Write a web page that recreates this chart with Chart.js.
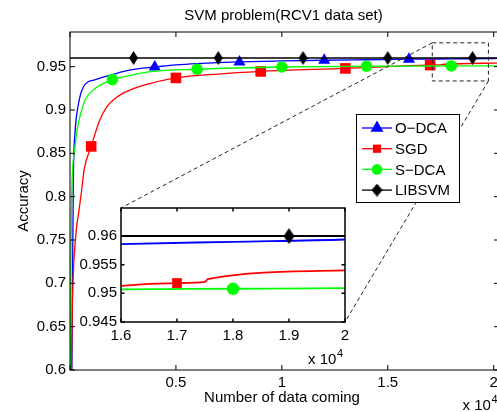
<!DOCTYPE html>
<html>
<head>
<title>SVM problem(RCV1 data set)</title>
<script src="https://cdn.jsdelivr.net/npm/chart.js@4.4.0/dist/chart.umd.min.js"></script>
<style>
  html, body { margin: 0; padding: 0; background: #fff; overflow: hidden; }
  #wrap { position: relative; width: 497px; height: 412px; overflow: hidden; }
  #main { position: absolute; left: 0; top: 0; }
  #zoom { position: absolute; left: 60px; top: 195px; }
</style>
</head>
<body>
<div id="wrap">
  <canvas id="main" width="505" height="412"></canvas>
  <canvas id="zoom" width="300" height="175"></canvas>
</div>
<script>
// values (x = number of data coming, y = accuracy)
const odcaX = [60, 90, 113, 160, 241, 350, 620, 1200, 2150, 2800, 3700, 4000, 5000, 6000, 8000, 10000, 12000, 14000, 16000, 18000, 20000, 20250];
const odcaY = [0.55, 0.6, 0.69, 0.823, 0.875, 0.9, 0.926, 0.935, 0.942, 0.946, 0.949, 0.9497, 0.952, 0.9535, 0.9555, 0.9566, 0.9574, 0.958, 0.9586, 0.959, 0.9594, 0.9595];
const odcaMarks = [4000, 8000, 12000, 16000];

const sgdX = [40, 66, 113, 270, 430, 553, 666, 1000, 1375, 1690, 2240, 3028, 3812, 5000, 7000, 9000, 11000, 13000, 15000, 16000, 17000, 17500, 17550, 20000, 20250];
const sgdY = [0.55, 0.6, 0.677, 0.754, 0.785, 0.808, 0.831, 0.858, 0.8865, 0.902, 0.9154, 0.925, 0.9308, 0.937, 0.9415, 0.9445, 0.9465, 0.948, 0.95, 0.9513, 0.9518, 0.952, 0.9525, 0.954, 0.9542];
const sgdMarks = [1000, 5000, 9000, 13000, 17000];

const sdcaX = [0, 15, 40, 80, 130, 200, 350, 505, 740, 1200, 2000, 2800, 3800, 6000, 10000, 14000, 16000, 18000, 20000, 20250];
const sdcaY = [0.5, 0.6, 0.72, 0.8, 0.835, 0.85, 0.879, 0.896, 0.913, 0.925, 0.935, 0.9396, 0.9442, 0.947, 0.9496, 0.9505, 0.9507, 0.9508, 0.9509, 0.9509];
const sdcaMarks = [2000, 6000, 10000, 14000, 18000];

const libsvmX = [0, 3000, 7000, 11000, 15000, 19000, 20250];
const libsvmY = [0.96, 0.96, 0.96, 0.96, 0.96, 0.96, 0.96];
const libsvmMarks = [3000, 7000, 11000, 15000, 19000];

const seriesNames = ['O\u2212DCA', 'SGD', 'S\u2212DCA', 'LIBSVM'];

// tick values
const mainXTicks = [0, 5000, 10000, 15000, 20000];
const mainYTicks = [0.6, 0.65, 0.7, 0.75, 0.8, 0.85, 0.9, 0.95];
const insetXTicks = [16000, 17000, 18000, 19000, 20000];
const insetYTicks = [0.945, 0.95, 0.955, 0.96];

// dashed zoom rectangle on the main axes (data units)
const zoomBoxX = [17100, 19750];
const zoomBoxY = [0.9335, 0.9775];

const FONT = "'Liberation Sans', Arial, Helvetica, sans-serif";
Chart.defaults.font.family = FONT;
Chart.defaults.font.size = 15;
Chart.defaults.color = '#000';

function diamond(w, h) {
  const c = document.createElement('canvas');
  c.width = w; c.height = h;
  const g = c.getContext('2d');
  g.fillStyle = '#000';
  g.beginPath();
  g.moveTo(w / 2, 0); g.lineTo(w, h / 2); g.lineTo(w / 2, h); g.lineTo(0, h / 2);
  g.closePath(); g.fill();
  return c;
}

// builds the four datasets; the inset only shows markers strictly inside its x range
function makeSets(inset) {
  const lim = inset ? [16000, 20000] : [-1, 1e9];
  const series = [
    { xs: odcaX, ys: odcaY, marks: odcaMarks, color: '#0000ff', style: 'triangle', r: 7, lw: inset ? 1.8 : 1.3 },
    { xs: sgdX, ys: sgdY, marks: sgdMarks, color: '#ff0000', style: 'rect', r: inset ? 6.9 : 7.5, lw: inset ? 1.8 : 1.3 },
    { xs: sdcaX, ys: sdcaY, marks: sdcaMarks, color: '#00ff00', style: 'circle', r: inset ? 6.2 : 5.8, lw: inset ? 1.8 : 1.3 },
    { xs: libsvmX, ys: libsvmY, marks: libsvmMarks, color: '#000000', style: inset ? diamond(11, 16) : diamond(9, 14), r: 7, lw: inset ? 2 : 1.7 }
  ];
  return series.map((s, i) => {
    const rad = c => (c.raw && s.marks.includes(c.raw.x) && c.raw.x > lim[0] && c.raw.x < lim[1]) ? s.r : 0;
    return {
      label: seriesNames[i],
      data: s.xs.map((x, k) => ({ x: x, y: s.ys[k] })),
      showLine: true,
      borderColor: s.color,
      backgroundColor: s.color,
      borderWidth: s.lw,
      cubicInterpolationMode: 'monotone',
      pointStyle: s.style,
      pointBackgroundColor: s.color,
      pointBorderWidth: 0,
      pointRadius: rad,
      pointHoverRadius: rad,
      order: 4 - i
    };
  });
}

function setTicks(vals) {
  return scale => { scale.ticks = vals.map(v => ({ value: v })); };
}

// box around the axes with inward tick marks on all four sides
function frame(ctx, a, x, y, len, lw) {
  ctx.strokeStyle = '#000';
  ctx.lineWidth = lw;
  ctx.setLineDash([]);
  ctx.strokeRect(a.left, a.top, a.right - a.left, a.bottom - a.top);
  ctx.beginPath();
  x.ticks.forEach(t => {
    const p = x.getPixelForValue(t.value);
    ctx.moveTo(p, a.bottom); ctx.lineTo(p, a.bottom - len);
    ctx.moveTo(p, a.top); ctx.lineTo(p, a.top + len);
  });
  y.ticks.forEach(t => {
    const p = y.getPixelForValue(t.value);
    ctx.moveTo(a.left, p); ctx.lineTo(a.left + len, p);
    ctx.moveTo(a.right, p); ctx.lineTo(a.right - len, p);
  });
  ctx.stroke();
}

function times10(ctx, right, base) {
  ctx.fillStyle = '#000';
  ctx.textAlign = 'right';
  ctx.textBaseline = 'alphabetic';
  ctx.font = '11px ' + FONT;
  const w4 = ctx.measureText('4').width;
  ctx.fillText('4', right, base - 7);
  ctx.font = '15px ' + FONT;
  ctx.fillText('x 10', right - w4 - 0.5, base);
}

// ---------- inset (zoomed) axes ----------
const insetCanvas = document.getElementById('zoom');
const insetChart = new Chart(insetCanvas, {
  type: 'scatter',
  data: { datasets: makeSets(true) },
  options: {
    responsive: false, animation: false, events: [],
    layout: { padding: { left: 0, top: 13, right: 15, bottom: 0 } },
    plugins: { legend: { display: false }, tooltip: { enabled: false } },
    scales: {
      x: {
        type: 'linear', min: 16000, max: 20000,
        grid: { display: false, drawTicks: false }, border: { display: false },
        ticks: { padding: 5, maxRotation: 0, autoSkip: false,
                 callback: v => String(v / 10000) },
        afterBuildTicks: setTicks(insetXTicks),
        afterFit: s => { s.height = 48; }
      },
      y: {
        min: 0.945, max: 0.9649,
        grid: { display: false, drawTicks: false }, border: { display: false },
        ticks: { padding: 4, autoSkip: false,
                 callback: v => String(Math.round(v * 1000) / 1000) },
        afterBuildTicks: setTicks(insetYTicks),
        afterFit: s => { s.width = 61; }
      }
    }
  },
  plugins: [{
    id: 'insetDecor',
    beforeDraw(chart) {
      const a = chart.chartArea;
      chart.ctx.save();
      chart.ctx.fillStyle = '#fff';
      chart.ctx.fillRect(a.left, a.top, a.right - a.left, a.bottom - a.top);
      chart.ctx.restore();
    },
    afterDraw(chart) {
      const ctx = chart.ctx;
      ctx.save();
      frame(ctx, chart.chartArea, chart.scales.x, chart.scales.y, 3.5, 1.5);
      times10(ctx, chart.chartArea.right - 2, 169);
      ctx.restore();
    }
  }]
});

// ---------- main axes ----------
const mainDecor = {
  id: 'mainDecor',
  afterDraw(chart) {
    const ctx = chart.ctx;
    const a = chart.chartArea;
    const x = chart.scales.x, y = chart.scales.y;
    ctx.save();

    // dashed zoom rectangle and connectors to the inset corners
    const bx0 = x.getPixelForValue(zoomBoxX[0]), bx1 = x.getPixelForValue(zoomBoxX[1]);
    const by0 = y.getPixelForValue(zoomBoxY[1]), by1 = y.getPixelForValue(zoomBoxY[0]);
    const ia = insetChart.chartArea;
    const ox = insetCanvas.offsetLeft, oy = insetCanvas.offsetTop;
    ctx.strokeStyle = '#222';
    ctx.lineWidth = 1;
    ctx.setLineDash([4, 3]);
    ctx.strokeRect(bx0, by0, bx1 - bx0, by1 - by0);
    ctx.beginPath();
    ctx.moveTo(bx0, by0); ctx.lineTo(ia.left + ox, ia.top + oy);
    ctx.moveTo(bx1, by1); ctx.lineTo(ia.right + ox, ia.bottom + oy);
    ctx.stroke();

    frame(ctx, a, x, y, 5, 1);

    // title and axis labels
    ctx.fillStyle = '#000';
    ctx.font = '15px ' + FONT;
    ctx.textAlign = 'center';
    ctx.textBaseline = 'alphabetic';
    ctx.fillText('SVM problem(RCV1 data set)', 283.5, 19.5);
    ctx.fillText('Number of data coming', 282, 402);
    ctx.save();
    ctx.translate(27.5, 201);
    ctx.rotate(-Math.PI / 2);
    ctx.fillText('Accuracy', 0, 0);
    ctx.restore();
    times10(ctx, 497.5, 410);

    // legend
    const lx = 356, ly = 114, lw = 103, lh = 88;
    ctx.fillStyle = '#fff';
    ctx.fillRect(lx, ly, lw, lh);
    ctx.strokeStyle = '#000';
    ctx.lineWidth = 1;
    ctx.strokeRect(lx + 0.5, ly + 0.5, lw, lh);
    const legendMarks = [
      { pointStyle: 'triangle', radius: 7.5 },
      { pointStyle: 'rect', radius: 5.8 },
      { pointStyle: 'circle', radius: 5.3 },
      { pointStyle: diamond(11, 13), radius: 6 }
    ];
    chart.data.datasets.forEach((ds, i) => {
      const ry = 128 + i * 20.7;
      ctx.strokeStyle = ds.borderColor;
      ctx.lineWidth = 1.3;
      ctx.beginPath();
      ctx.moveTo(362, ry); ctx.lineTo(392, ry);
      ctx.stroke();
      ctx.fillStyle = ds.borderColor;
      Chart.helpers.drawPoint(ctx, { pointStyle: legendMarks[i].pointStyle, radius: legendMarks[i].radius, rotation: 0, borderWidth: 0 }, 377, ry);
      ctx.fillStyle = '#000';
      ctx.font = '15px ' + FONT;
      ctx.textAlign = 'left';
      ctx.textBaseline = 'middle';
      ctx.fillText(ds.label, 395, ry + 1);
    });
    ctx.restore();
  }
};

const mainChart = new Chart(document.getElementById('main'), {
  type: 'scatter',
  data: { datasets: makeSets(false) },
  options: {
    responsive: false, animation: false, events: [],
    layout: { padding: { left: 0, top: 32, right: 6, bottom: 0 } },
    plugins: { legend: { display: false }, tooltip: { enabled: false } },
    scales: {
      x: {
        type: 'linear', min: 0, max: 20250,
        grid: { display: false, drawTicks: false }, border: { display: false },
        ticks: { padding: 4, maxRotation: 0, autoSkip: false,
                 callback: v => v === 0 ? '' : String(v / 10000) },
        afterBuildTicks: setTicks(mainXTicks),
        afterFit: s => { s.height = 42; }
      },
      y: {
        min: 0.6, max: 0.99,
        grid: { display: false, drawTicks: false }, border: { display: false },
        ticks: { padding: 4, autoSkip: false,
                 callback: v => String(Math.round(v * 100) / 100) },
        afterBuildTicks: setTicks(mainYTicks),
        afterFit: s => { s.width = 70; }
      }
    }
  },
  plugins: [mainDecor]
});
</script>
</body>
</html>
